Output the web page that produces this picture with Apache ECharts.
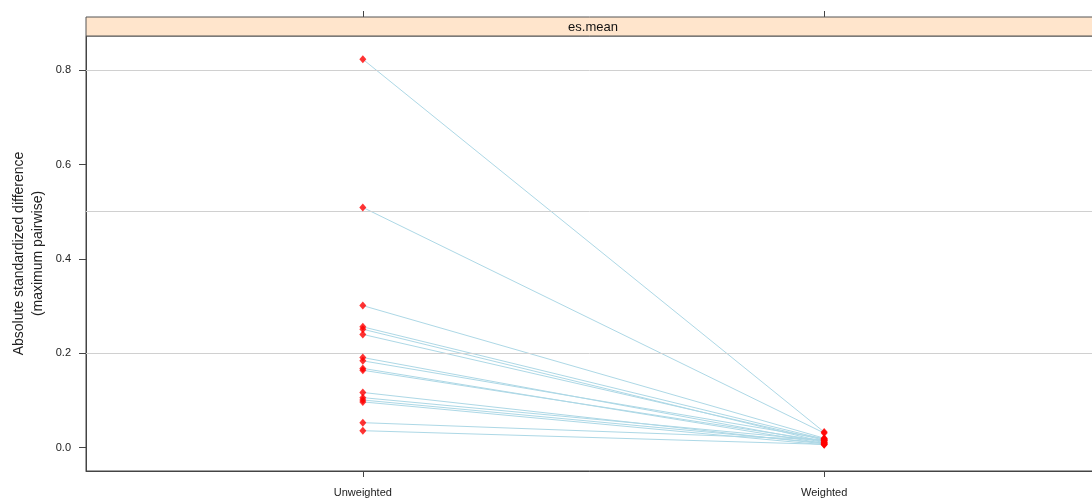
<!DOCTYPE html>
<html>
<head>
<meta charset="utf-8">
<script src="https://cdn.jsdelivr.net/npm/echarts@6/dist/echarts.min.js"></script>
<style>
  html, body { margin: 0; padding: 0; background: #fff; }
  #chart { width: 1092px; height: 500px; }
</style>
</head>
<body>
<div id="chart"></div>
<script>
// Balance summary: absolute standardized mean difference per covariate,
// before and after weighting.
const conditions = ['Unweighted', 'Weighted'];
const unweighted = [0.823, 0.509, 0.301, 0.256, 0.251, 0.240, 0.191, 0.184,
                    0.168, 0.164, 0.117, 0.106, 0.101, 0.097, 0.053, 0.036];
const weighted   = [0.033, 0.031, 0.020, 0.018, 0.012, 0.016, 0.011, 0.019,
                    0.009, 0.014, 0.008, 0.015, 0.010, 0.006, 0.017, 0.007];
const yTicks = [0, 0.2, 0.4, 0.6, 0.8];
const refLines = [0.2, 0.5, 0.8];
const panelTitle = 'es.mean';

const xPos = conditions.map((c, i) => i + 1);
const font = 'Liberation Sans, Arial, sans-serif';

const lineSeries = unweighted.map((u, i) => ({
  type: 'line',
  data: [[xPos[0], u], [xPos[1], weighted[i]]],
  symbol: 'none',
  lineStyle: { color: '#add8e6', width: 1 },
  silent: true,
  z: 2
}));

const points = [];
unweighted.forEach((u, i) => {
  points.push([xPos[0], u]);
  points.push([xPos[1], weighted[i]]);
});

const chart = echarts.init(document.getElementById('chart'), null, { renderer: 'canvas' });
chart.setOption({
  animation: false,
  backgroundColor: '#ffffff',
  textStyle: { fontFamily: font },
  grid: {
    left: 86, right: -9, top: 36, bottom: 29,
    containLabel: false,
    outerBoundsMode: 'none',
    show: true, borderColor: '#444', borderWidth: 1, backgroundColor: 'transparent'
  },
  xAxis: [{
    type: 'value', min: 0.4, max: 2.6,
    position: 'bottom',
    splitLine: { show: false },
    axisLine: { show: true, onZero: false, lineStyle: { color: '#444' } },
    axisTick: { show: true, customValues: xPos, length: 6, lineStyle: { color: '#444' } },
    axisLabel: {
      customValues: xPos, margin: 16, fontSize: 11, color: '#222', fontFamily: font,
      formatter: v => conditions[Math.round(v) - 1] || ''
    }
  }, {
    type: 'value', min: 0.4, max: 2.6,
    position: 'top', offset: 19,
    splitLine: { show: false },
    axisLine: { show: false, onZero: false },
    axisTick: { show: true, customValues: xPos, length: 6, lineStyle: { color: '#444' } },
    axisLabel: { show: false }
  }],
  yAxis: {
    type: 'value', min: -0.0494, max: 0.8722,
    splitLine: { show: false },
    axisLine: { show: true, onZero: false, lineStyle: { color: '#444' } },
    axisTick: { show: true, customValues: yTicks, length: 7, lineStyle: { color: '#444' } },
    axisLabel: {
      customValues: yTicks, margin: 15, fontSize: 11, color: '#222', fontFamily: font,
      formatter: v => v.toFixed(1)
    },
    name: 'Absolute standardized difference\n(maximum pairwise)',
    nameLocation: 'middle',
    nameRotate: 90,
    nameGap: 38,
    nameMoveOverlap: false,
    nameTextStyle: { fontSize: 14, color: '#222', fontFamily: font, lineHeight: 19, align: 'center' }
  },
  graphic: [{
    type: 'rect',
    shape: { x: 86, y: 17, width: 1015, height: 19 },
    style: { fill: '#ffe5cc', stroke: '#555', lineWidth: 1 },
    z: 10
  }, {
    type: 'text',
    x: 593, y: 27,
    style: {
      text: panelTitle, fontSize: 13, fontFamily: font, fill: '#111',
      align: 'center', verticalAlign: 'middle'
    },
    z: 11
  }],
  series: [{
    type: 'line',
    data: [],
    silent: true,
    markLine: {
      silent: true, symbol: 'none',
      label: { show: false },
      lineStyle: { color: '#d0d0d0', width: 1, type: 'solid' },
      data: refLines.map(v => ({ yAxis: v }))
    },
    z: 1
  }].concat(lineSeries).concat([{
    type: 'scatter',
    data: points,
    symbol: 'diamond',
    symbolSize: [7, 8],
    itemStyle: { color: '#ff0000' },
    silent: true,
    z: 5
  }])
});
</script>
</body>
</html>
